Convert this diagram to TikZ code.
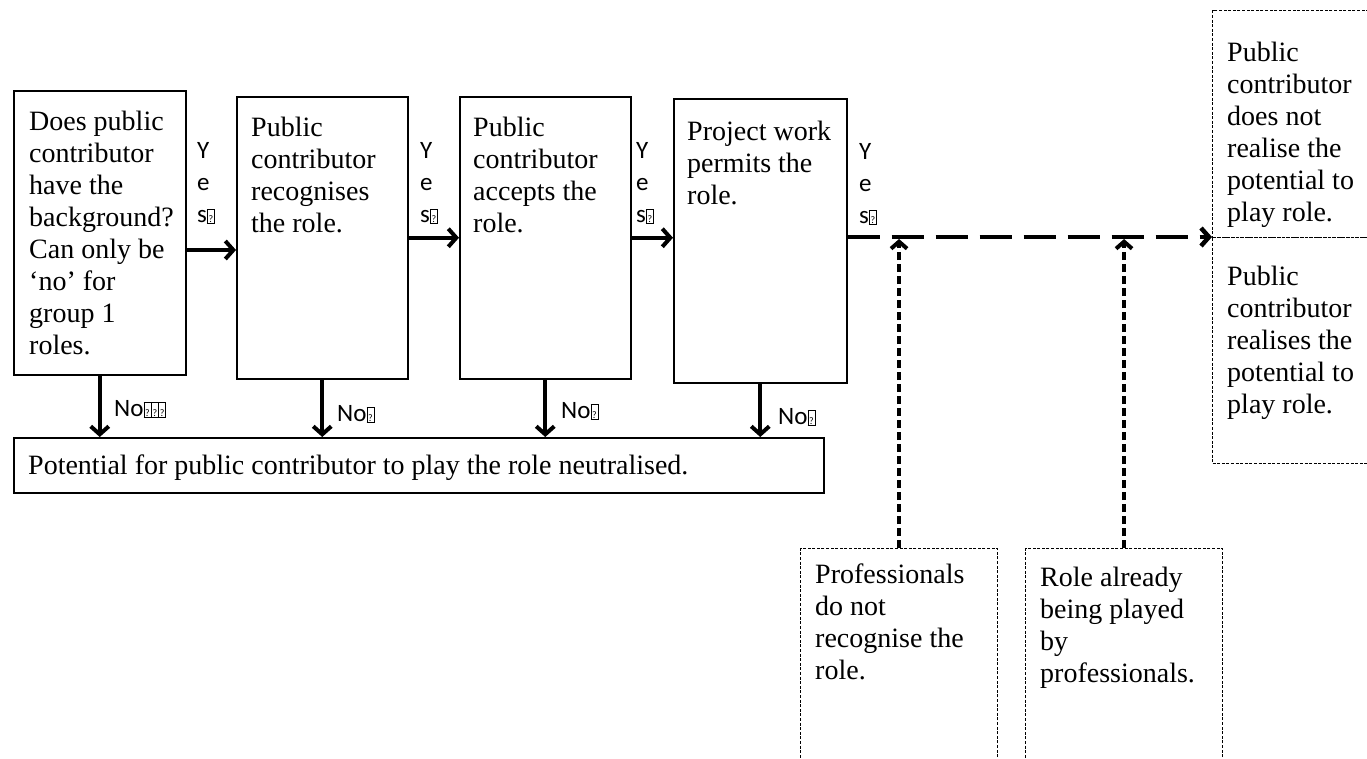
\documentclass[tikz,border=0pt]{standalone}
\usepackage{fontspec}
\setmainfont{Liberation Serif}
\newfontfamily\calfont{Carlito}
\usetikzlibrary{arrows.meta,calc}
\newcommand{\fl}{\rule{0pt}{20pt}}
\newcommand{\fls}{\rule{0pt}{16pt}}
\newcommand{\qbx}{{\fboxsep=0pt\fboxrule=0.7pt\framebox[8pt]{\rule[-1pt]{0pt}{14pt}\fontsize{10}{10}\selectfont ?}}}
\begin{document}
\begin{tikzpicture}[x=1pt,y=-1pt,
  blk/.style={draw,line width=1.5pt,inner sep=0pt,anchor=north west},
  dbox/.style={draw,line width=1.1pt,dash pattern=on 3pt off 1.6pt,inner sep=0pt,anchor=north west},
  txt/.style={inner sep=0pt,anchor=north west,align=left,font=\fontsize{28}{32}\selectfont},
  lab/.style={inner sep=0pt,anchor=north west,align=left,font=\calfont\fontsize{25}{32}\selectfont},
  nolab/.style={inner sep=0pt,anchor=base west,font=\calfont\fontsize{25}{28}\selectfont},
  arr/.style={line width=4pt,-{Straight Barb[length=8pt,width=18pt]}},
  bigdash/.style={line width=4.5pt,dash pattern=on 32pt off 12pt,-{Straight Barb[length=8pt,width=18pt]}},
  smalldash/.style={line width=4pt,dash pattern=on 8pt off 4pt,-{Straight Barb[length=7pt,width=16pt]}}]
\useasboundingbox (0,0) rectangle (1367,758);
\clip (0,0) rectangle (1367,758);

% main process boxes
\node[blk,minimum width=172pt,minimum height=284pt] (b1) at (13,90) {};
\node[blk,minimum width=171pt,minimum height=282pt] (b2) at (236,96) {};
\node[blk,minimum width=171pt,minimum height=282pt] (b3) at (459,96) {};
\node[blk,minimum width=173pt,minimum height=284pt] (b4) at (673,98) {};
\node[blk,minimum width=810pt,minimum height=55pt] (P) at (13,437) {};

% outcome boxes (dashed)
\node[dbox,minimum width=250pt,minimum height=227pt] (r1) at (1212,10) {};
\node[dbox,minimum width=250pt,minimum height=226pt] (r2) at (1212,237) {};
\node[dbox,minimum width=197pt,minimum height=260pt] (A) at (800,548) {};
\node[dbox,minimum width=197pt,minimum height=260pt] (B) at (1025,548) {};

% texts
\node[txt] (t1) at (29,110) {\fl Does public\\contributor\\have the\\background?\\Can only be\\‘no’ for\\group 1\\roles.};
\node[txt] (t2) at (251,116) {\fl Public\\contributor\\recognises\\the role.};
\node[txt] (t3) at (473,116) {\fl Public\\contributor\\accepts the\\role.};
\node[txt] (t4) at (687,120) {\fl Project work\\permits the\\role.};
\node[txt] (tP) at (28,454) {\fl Potential for public contributor to play the role neutralised.};
\node[txt] (t5) at (1227,41) {\fl Public\\contributor\\does not\\realise the\\potential to\\play role.};
\node[txt] (t6) at (1227,265) {\fl Public\\contributor\\realises the\\potential to\\play role.};
\node[txt] (tA) at (815,563) {\fl Professionals\\do not\\recognise the\\role.};
\node[txt] (tB) at (1040,566) {\fl Role already\\being played\\by\\professionals.};

% yes labels
\node[lab] (y1) at (197,142) {\fls Y\\e\\s\qbx};
\node[lab] (y2) at (420,142) {\fls Y\\e\\s\qbx};
\node[lab] (y3) at (636,142) {\fls Y\\e\\s\qbx};
\node[lab] (y4) at (859,143) {\fls Y\\e\\s\qbx};

% no labels
\node[nolab] (n1) at (114,416) {No\qbx\kern-0.7pt\qbx\kern-0.7pt\qbx};
\node[nolab] (n2) at (337,421) {No\qbx};
\node[nolab] (n3) at (561,418) {No\qbx};
\node[nolab] (n4) at (778,424) {No\qbx};

% yes arrows
\coordinate (ya) at (0,250);
\draw[arr] (b1.east |- ya) -- (b2.west |- ya);
\draw[arr] (b2.east) -- (b2.east -| b3.west);
\draw[arr] (b3.east) -- (b3.east -| b4.west);
\draw[bigdash] (b4.east |- r2.north west) -- (r2.north west);

% no arrows
\draw[arr] (b1.south) -- (b1.south |- P.north);
\draw[arr] (b2.south) -- (b2.south |- P.north);
\draw[arr] (b3.south) -- (b3.south |- P.north);
\draw[arr] (b4.south) -- (b4.south |- P.north);

% influence arrows
\draw[smalldash,shorten >=2pt] (A.north) -- (A.north |- r2.north west);
\draw[smalldash,shorten >=2pt] (B.north) -- (B.north |- r2.north west);
\end{tikzpicture}
\end{document}
